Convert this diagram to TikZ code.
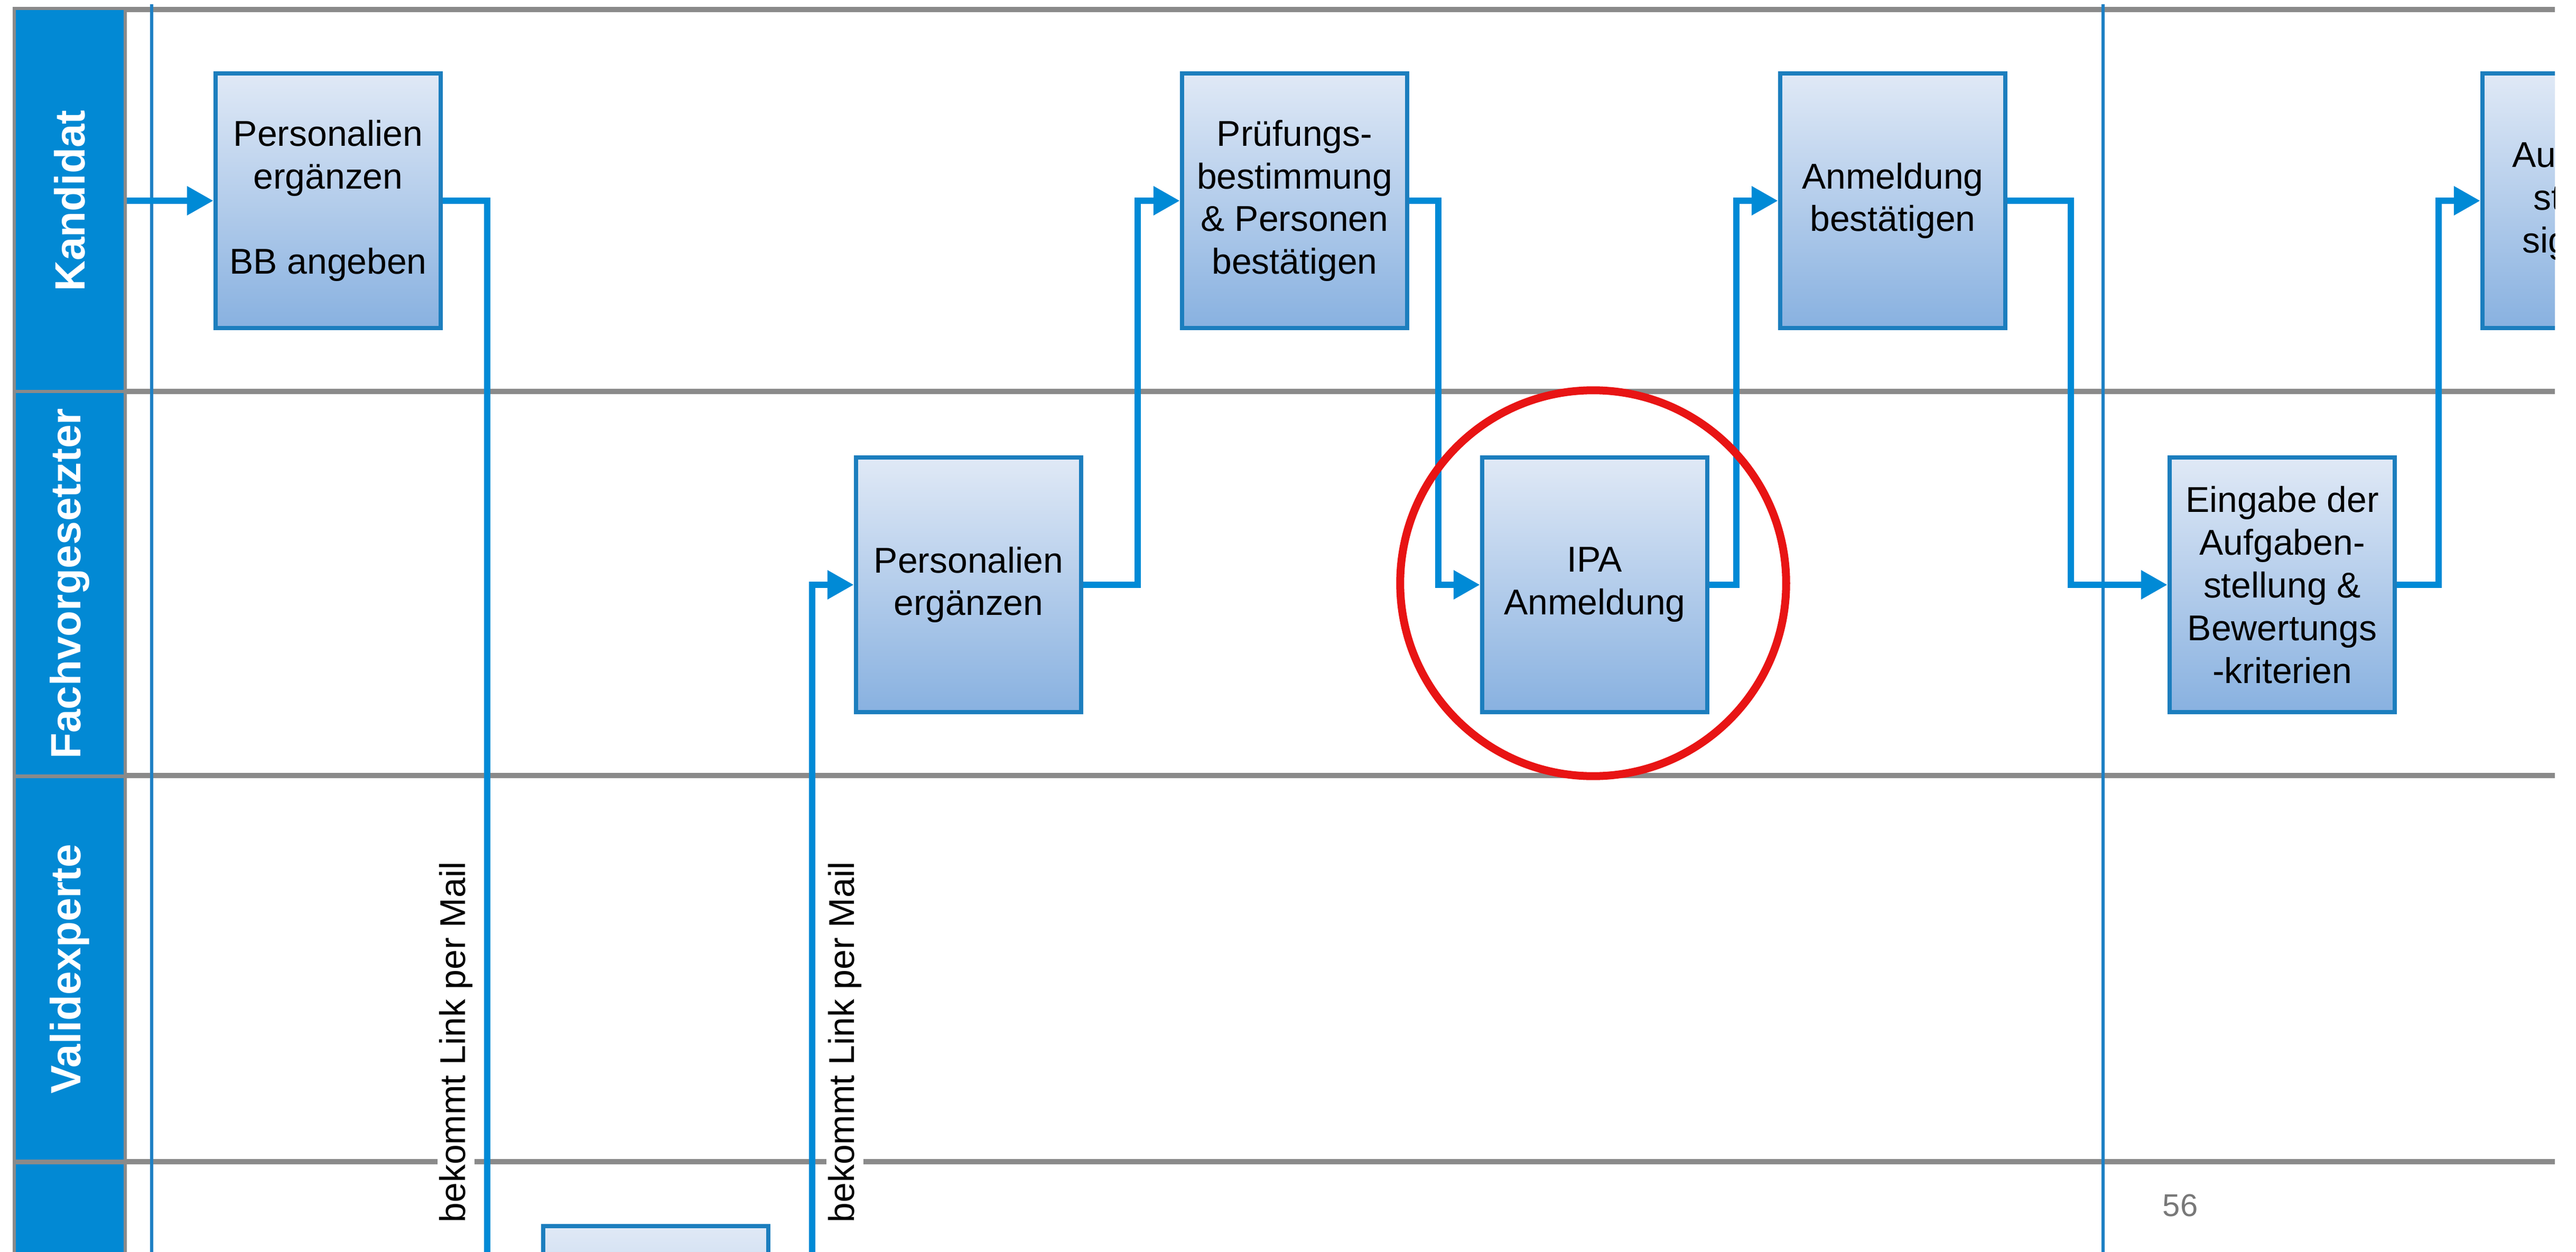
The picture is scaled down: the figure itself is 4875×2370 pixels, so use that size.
\documentclass[tikz,border=0pt]{standalone}
\usepackage{fontspec}
\setmainfont{Liberation Sans}
\usetikzlibrary{arrows.meta}
\definecolor{laneblue}{RGB}{2,137,212}
\definecolor{flowblue}{RGB}{0,138,214}
\definecolor{boxline}{RGB}{28,126,190}
\definecolor{boxtop}{RGB}{224,233,246}
\definecolor{boxbot}{RGB}{136,177,224}
\definecolor{laneline}{RGB}{138,138,138}
\definecolor{sepblue}{RGB}{30,128,196}
\definecolor{ringred}{RGB}{232,20,20}
\definecolor{pagegray}{RGB}{120,120,120}
\begin{document}
\begin{tikzpicture}[x=0.01cm,y=-0.01cm,>={Triangle[length=0.5cm,width=0.52cm]},
	font=\fontsize{19.3}{23}\selectfont,
	lanehead/.style={draw=laneline,line width=0.06cm,fill=laneblue,minimum width=2.09cm,minimum height=7.27cm,text=white,font=\fontsize{22.8}{27}\selectfont\bfseries},
	task/.style={draw=boxline,line width=0.08cm,top color=boxtop,bottom color=boxbot,minimum width=4.26cm,minimum height=4.82cm,inner sep=0pt,align=center},
	flow/.style={draw=flowblue,line width=0.125cm},
	mail/.style={rotate=90,fill=white,inner sep=1pt}]
	\useasboundingbox[fill=white] (0,0) rectangle (4875,2370);
	\clip (0,0) rectangle (4835,2370);
	\foreach \y in {18,741,1468,2199} \draw[laneline,line width=0.1cm] (240,\y) -- (4835,\y);
	\foreach \x in {287,3980} \draw[sepblue,line width=0.06cm] (\x,8) -- (\x,2370);
	\node[lanehead] (kand) at (132,380) {\rotatebox{90}{Kandidat}};
	\node[lanehead] (fach) at (132,1105) {\rotatebox{90}{Fachvorgesetzter}};
	\node[lanehead] (valid) at (132,1834) {\rotatebox{90}{Validexperte}};
	\node[lanehead] (next) at (132,2565) {};
	\node[task] (p1) at (621,380) {Personalien\\ergänzen\\[23pt]BB angeben};
	\node[task] (p2) at (1833,1107) {Personalien\\ergänzen};
	\node[task] (p3) at (2450,380) {Prüfungs-\\bestimmung\\\& Personen\\bestätigen};
	\node[task] (p4) at (3018,1107) {IPA\\Anmeldung};
	\node[task] (p5) at (3582,380) {Anmeldung\\bestätigen};
	\node[task] (p6) at (4319,1107) {Eingabe der\\Aufgaben-\\stellung \&\\Bewertungs\\-kriterien};
	\node[task] (p7) at (4911,380) {Aufgaben-\\stellung\\signieren};
	\node[task] (p8) at (1241,2562) {};
	\coordinate (down1) at (922,2450);
	\coordinate (up2) at (1537,2450);
	\draw[flow,->] (kand.east) -- (p1.west);
	\draw[flow] (p1.east) -| (down1);
	\draw[flow,->] (up2) |- (p2.west);
	\draw[flow,->] (p2.east) -- ++(103,0) |- (p3.west);
	\draw[flow,->] (p3.east) -- ++(55,0) |- (p4.west);
	\draw[flow,->] (p4.east) -- ++(51,0) |- (p5.west);
	\draw[flow,->] (p5.east) -- ++(120,0) |- (p6.west);
	\draw[flow,->] (p6.east) -- ++(79,0) |- (p7.west);
	\node[mail] (mail1) at (863,1973) {bekommt Link per Mail};
	\node[mail] (mail2) at (1599,1973) {bekommt Link per Mail};
	\node[draw=ringred,line width=0.15cm,circle,minimum size=7.3cm] (ring) at (3015,1104) {};
	\node[text=pagegray,font=\fontsize{17}{20}\selectfont] (page) at (4126,2282) {56};
\end{tikzpicture}
\end{document}
